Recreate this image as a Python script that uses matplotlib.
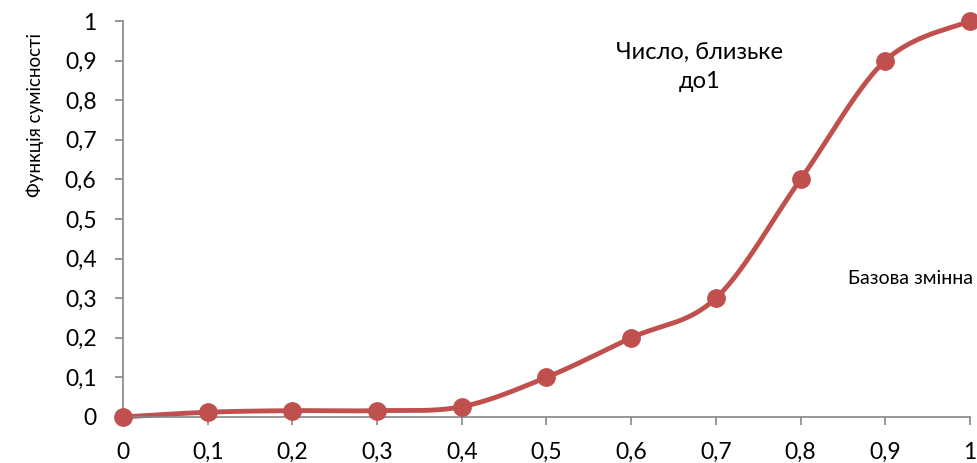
import numpy as np
import matplotlib
matplotlib.use("Agg")
import matplotlib.pyplot as plt
from matplotlib.ticker import FuncFormatter

plt.rcParams['font.family'] = ['Lato', 'DejaVu Sans']

# дані
x_vals = [0, 0.1, 0.2, 0.3, 0.4, 0.5, 0.6, 0.7, 0.8, 0.9, 1.0]
y_vals = [0, 0.012, 0.016, 0.016, 0.026, 0.1, 0.2, 0.3, 0.6, 0.9, 1.0]
x_ticks = [0, 0.1, 0.2, 0.3, 0.4, 0.5, 0.6, 0.7, 0.8, 0.9, 1.0]
y_ticks = [0, 0.1, 0.2, 0.3, 0.4, 0.5, 0.6, 0.7, 0.8, 0.9, 1.0]


def smooth(xs, ys, n=40):
    # згладжування як в Excel (Catmull-Rom / Bezier)
    p = np.column_stack([xs, ys]).astype(float)
    p = np.vstack([p[0], p, p[-1]])
    out = []
    t = np.linspace(0, 1, n)[:, None]
    for i in range(1, len(p) - 2):
        p0, p1, p2, p3 = p[i - 1], p[i], p[i + 1], p[i + 2]
        c1 = p1 + (p2 - p0) / 6
        c2 = p2 - (p3 - p1) / 6
        seg = ((1 - t) ** 3) * p1 + 3 * ((1 - t) ** 2) * t * c1 + 3 * (1 - t) * t ** 2 * c2 + t ** 3 * p2
        out.append(seg)
    s = np.vstack(out)
    return s[:, 0], s[:, 1]


fig = plt.figure(figsize=(9.77, 4.63), dpi=100)
ax = fig.add_axes([0.1259, 0.0994, 0.8669, 0.8552])

sx, sy = smooth(x_vals, y_vals)
red = '#C0504D'
ax.plot(sx, sy, color=red, linewidth=3.5, solid_capstyle='round', zorder=2, clip_on=False)
ax.plot(x_vals, y_vals, 'o', color=red, markersize=12.5, zorder=3, clip_on=False)

ax.set_xlim(0, 1)
ax.set_ylim(0, 1)
ax.set_xticks(x_ticks)
ax.set_yticks(y_ticks)
fmt = FuncFormatter(lambda v, pos: ('%g' % round(v, 1)).replace('.', ','))
ax.xaxis.set_major_formatter(fmt)
ax.yaxis.set_major_formatter(fmt)

for side in ['top', 'right']:
    ax.spines[side].set_visible(False)
for side in ['left', 'bottom']:
    ax.spines[side].set_color('#868686')
    ax.spines[side].set_linewidth(1.2)
ax.tick_params(axis='both', colors='#868686', labelcolor='black', labelsize=16.5,
               length=6, width=1.2, direction='out')
ax.tick_params(axis='x', pad=12)
ax.tick_params(axis='y', pad=13)

fig.text(35 / 977, 1 - 115 / 463, 'Функція сумісності', rotation=90,
         ha='center', va='center', fontsize=13.5)
fig.text(700 / 977, 1 - 67 / 463, 'Число, близьке\nдо1', ha='center', va='center',
         fontsize=17, linespacing=1.45)
fig.text(911 / 977, 1 - 278 / 463, 'Базова змінна', ha='center', va='center', fontsize=14)

fig.savefig('out.png', dpi=100)
